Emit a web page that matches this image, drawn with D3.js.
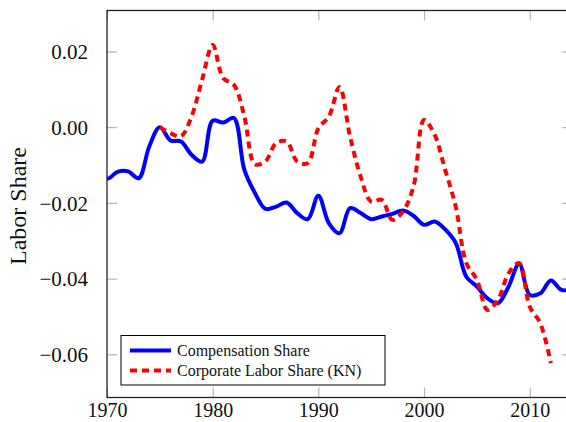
<!DOCTYPE html>
<html>
<head>
<meta charset="utf-8">
<script src="https://cdn.jsdelivr.net/npm/d3@7"></script>
<style>
  body { margin: 0; background: #fff; }
  svg { display: block; }
  .tick text { font-family: "Liberation Serif", "DejaVu Serif", serif; }
</style>
</head>
<body>
<svg id="chart" width="566" height="422"></svg>
<script>

// labor share series (deviation from 1975)
let comp_years = [1969, 1970, 1971, 1972, 1973, 1974, 1975, 1976, 1977, 1978, 1979,
                  1980, 1981, 1982, 1983, 1984, 1985, 1986, 1987, 1988, 1989,
                  1990, 1991, 1992, 1993, 1994, 1995, 1996, 1997, 1998, 1999,
                  2000, 2001, 2002, 2003, 2004, 2005, 2006, 2007, 2008, 2009,
                  2010, 2011, 2012, 2013, 2014]
let comp_share = [-0.0070, -0.0136, -0.0118, -0.0117, -0.0135, -0.0051, 0.0000, -0.0035, -0.0038, -0.0073, -0.0091,
                  0.0017, 0.0012, 0.0024, -0.0113, -0.0174, -0.0216, -0.0210, -0.0199, -0.0227, -0.0243,
                  -0.0181, -0.0254, -0.0280, -0.0214, -0.0227, -0.0243, -0.0236, -0.0229, -0.0220, -0.0234,
                  -0.0258, -0.0249, -0.0270, -0.0306, -0.0395, -0.0421, -0.0452, -0.0465, -0.0421, -0.0361,
                  -0.0443, -0.0439, -0.0405, -0.0430, -0.0428]

let kn_years = [1975, 1976, 1977, 1978, 1979, 1980, 1981, 1982, 1983, 1984, 1985,
                1986, 1987, 1988, 1989, 1990, 1991, 1992, 1993, 1994, 1995,
                1996, 1997, 1998, 1999, 2000, 2001, 2002, 2003, 2004, 2005,
                2006, 2007, 2008, 2009, 2010, 2011, 2012]
let kn_share = [0.0000, -0.0016, -0.0024, 0.0028, 0.0125, 0.0217, 0.0129, 0.0112, 0.0028, -0.0098, -0.0090,
                -0.0042, -0.0038, -0.0091, -0.0095, -0.0003, 0.0028, 0.0106, -0.0025, -0.0130, -0.0197,
                -0.0192, -0.0245, -0.0223, -0.0157, 0.0019, -0.0020, -0.0113, -0.0210, -0.0359, -0.0403,
                -0.0483, -0.0456, -0.0386, -0.0359, -0.0474, -0.0518, -0.0623]

let x_ticks = [1970, 1980, 1990, 2000, 2010]
let y_ticks = [0.02, 0.00, -0.02, -0.04, -0.06]

let series_names = ["Compensation Share", "Corporate Labor Share (KN)"]
let series_cols = { comp: "#0000ff", kn: "#ff0000" }

let margin = {left: 107, right: -6, top: 10.5, bottom: 24.5}
let W = 566, H = 422
let iw = W - margin.left - margin.right
let ih = H - margin.top - margin.bottom

let svg = d3.select('#chart')
let g = svg.append('g')
    .attr('transform', 'translate(' + margin.left + ',' + margin.top + ')')

let x = d3.scaleLinear().domain([1970, 2014]).range([0, iw])
let y = d3.scaleLinear().domain([-0.0714, 0.0308]).range([ih, 0])

let fmt = d => (d < 0 ? "\u2212" : "") + Math.abs(d).toFixed(2)

g.append('defs').append('clipPath').attr('id', 'plotclip')
    .append('rect').attr('width', iw).attr('height', ih)

// grey inward ticks on all four sides
let tickcol = "#b3b3b3"
let xt = g.append('g').attr('transform', 'translate(0,' + ih + ')')
    .call(d3.axisBottom(x).tickValues(x_ticks).tickFormat(d3.format('d')).tickSizeInner(-10).tickSizeOuter(0).tickPadding(6))
g.append('g').call(d3.axisTop(x).tickValues(x_ticks).tickFormat('').tickSizeInner(-10).tickSizeOuter(0))
let yt = g.append('g')
    .call(d3.axisLeft(y).tickValues(y_ticks).tickFormat(fmt).tickSizeInner(-10).tickSizeOuter(0).tickPadding(19))
g.append('g').attr('transform', 'translate(' + iw + ',0)')
    .call(d3.axisRight(y).tickValues(y_ticks).tickFormat('').tickSizeInner(-10).tickSizeOuter(0))

g.selectAll('.domain').remove()
g.selectAll('.tick line').attr('stroke', tickcol).attr('stroke-width', 1.2)
g.selectAll('.tick text').attr('font-size', 21).attr('fill', '#111')
yt.selectAll('.tick text').attr('dy', '0.34em')
xt.selectAll('.tick text').attr('font-size', 20).attr('dy', '0.68em')

let lineFunc = d3.line()
    .x(d => x(d[0]))
    .y(d => y(d[1]))
    .curve(d3.curveCatmullRom.alpha(0.5))

let lines = g.append('g').attr('clip-path', 'url(#plotclip)')

lines.append('path')
    .attr('fill', 'none')
    .attr('stroke', series_cols.comp)
    .attr('stroke-width', 4)
    .attr('stroke-linejoin', 'round')
    .attr('d', lineFunc(d3.zip(comp_years, comp_share)))

lines.append('path')
    .attr('fill', 'none')
    .attr('stroke', series_cols.kn)
    .attr('stroke-width', 4)
    .attr('stroke-dasharray', '7,5')
    .attr('d', lineFunc(d3.zip(kn_years, kn_share)))

// frame
g.append('rect')
    .attr('width', iw).attr('height', ih)
    .attr('fill', 'none')
    .attr('stroke', '#222')
    .attr('stroke-width', 1.3)

// y label
svg.append('text')
    .attr('transform', 'translate(26,' + 206 + ') rotate(-90)')
    .attr('text-anchor', 'middle')
    .attr('font-family', '"Liberation Serif", serif')
    .attr('font-size', 24)
    .attr('fill', '#111')
    .text('Labor Share')

// legend
let lg = g.append('g').attr('transform', 'translate(' + 14 + ',' + 325 + ')')
lg.append('rect')
    .attr('width', 264).attr('height', 49.5)
    .attr('fill', '#fff').attr('stroke', '#000').attr('stroke-width', 1)

let legend_rows = [{key: 'comp', dash: null}, {key: 'kn', dash: '7,5'}]
legend_rows.forEach((r, i) => {
    let yy = 15 + i * 20
    lg.append('line')
        .attr('x1', 9).attr('x2', 50)
        .attr('y1', yy).attr('y2', yy)
        .attr('stroke', series_cols[r.key])
        .attr('stroke-width', 4)
        .attr('stroke-dasharray', r.dash)
    lg.append('text')
        .attr('x', 56).attr('y', yy + 5)
        .attr('font-family', '"Liberation Serif", serif')
        .attr('font-size', 16)
        .attr('fill', '#111')
        .text(series_names[i])
})

</script>
</body>
</html>
